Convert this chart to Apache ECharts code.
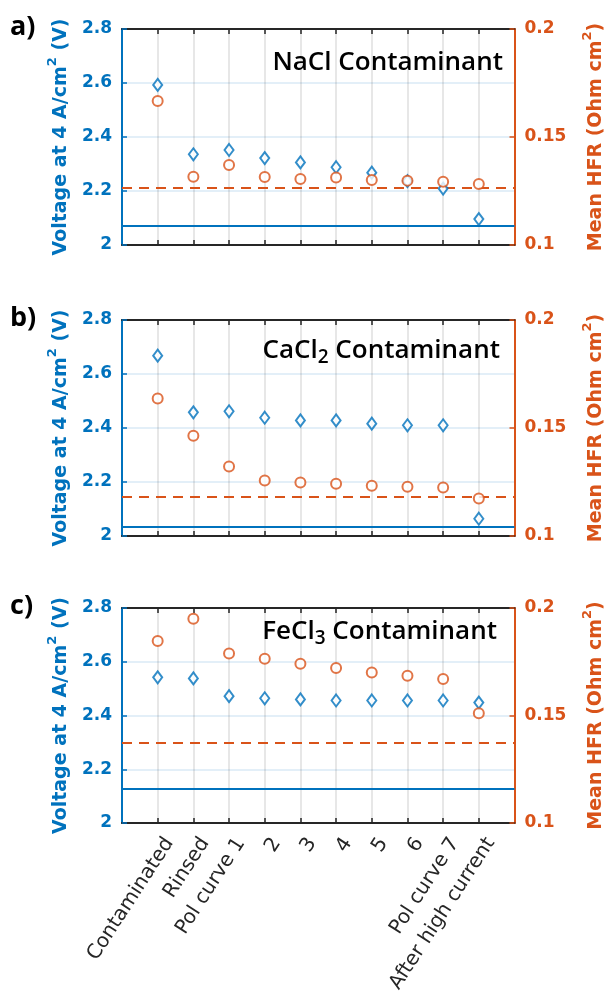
<!DOCTYPE html>
<html><head><meta charset="utf-8">
<script src="https://cdn.jsdelivr.net/npm/echarts@6/dist/echarts.min.js"></script>
<style>html,body{margin:0;padding:0;background:#fff}#c{width:614px;height:999px}</style>
</head><body><div id="c"></div>
<script>
const categories = ['Contaminated','Rinsed','Pol curve 1','2','3','4','5','6','Pol curve 7','After high current'];
const voltNaCl  = [2.593,2.336,2.352,2.322,2.306,2.288,2.268,2.237,2.209,2.096];
const hfrNaCl   = [0.1667,0.1316,0.1370,0.1315,0.1306,0.1312,0.1301,0.1298,0.1293,0.1282];
const voltCaCl2 = [2.668,2.458,2.462,2.438,2.428,2.428,2.416,2.410,2.410,2.064];
const hfrCaCl2  = [0.1637,0.1464,0.1322,0.1257,0.1248,0.1242,0.1233,0.1228,0.1225,0.1174];
const voltFeCl3 = [2.542,2.538,2.472,2.464,2.460,2.456,2.456,2.456,2.456,2.448];
const hfrFeCl3  = [0.1847,0.1950,0.1788,0.1764,0.1741,0.1721,0.1700,0.1685,0.1670,0.1511];
const voltBaseline = [2.072, 2.036, 2.129];
const hfrBaseline  = [0.1267, 0.1183, 0.1374];
const panelLetters = ['a)','b)','c)'];
const titleMain = ['NaCl','CaCl','FeCl'];
const titleSub  = ['','2','3'];
const voltAxis = {min:2, max:2.8, interval:0.2};
const hfrAxis  = {min:0.1, max:0.2, interval:0.05};

const volts = [voltNaCl, voltCaCl2, voltFeCl3];
const hfrs  = [hfrNaCl, hfrCaCl2, hfrFeCl3];
const BLUE='#0072BD', ORANGE='#D95319', DARK='#262626';
const layout = [{top:29,height:216,ty:63,tr:503},{top:320,height:216,ty:351,tr:500},{top:608,height:215,ty:632,tr:497}];
const tickVals = categories.map((c,i)=>i+1);

const grid=[], xAxis=[], yAxis=[], series=[], graphic=[];
layout.forEach((L,i)=>{
  grid.push({left:122,right:93,top:L.top,height:L.height});
  xAxis.push({type:'value',gridIndex:i,position:'bottom',min:0,max:11,interval:1,
    axisLine:{show:true,onZero:false,lineStyle:{color:DARK,width:2}},
    axisTick:{show:true,inside:true,length:5,lineStyle:{color:DARK,width:1.5},customValues:tickVals},
    splitLine:{show:true,lineStyle:{color:'rgba(38,38,38,0.15)',width:1.5}},
    axisLabel: i===2 ? {show:true,rotate:57,margin:9,fontFamily:'DejaVu Sans',fontSize:20,lineHeight:28,color:DARK,
      verticalAlign:'top',showMinLabel:true,showMaxLabel:true,hideOverlap:false,
      customValues:tickVals, formatter:v=>categories[v-1]||''} : {show:false}
  });
});
layout.forEach((L,i)=>{
  xAxis.push({type:'value',gridIndex:i,position:'top',min:0,max:11,interval:1,
    axisLine:{show:true,onZero:false,lineStyle:{color:DARK,width:2}},
    axisTick:{show:true,inside:true,length:5,lineStyle:{color:DARK,width:1.5},customValues:tickVals},
    splitLine:{show:false},axisLabel:{show:false}});
});
layout.forEach((L,i)=>{
  yAxis.push({type:'value',gridIndex:i,position:'left',min:voltAxis.min,max:voltAxis.max,interval:voltAxis.interval,
    axisLine:{show:true,onZero:false,lineStyle:{color:BLUE,width:2}},
    axisTick:{show:true,inside:true,length:5,lineStyle:{color:BLUE,width:1.5}},
    axisLabel:{color:BLUE,fontFamily:'DejaVu Sans',fontWeight:'bold',fontSize:17,margin:10},
    splitLine:{show:true,lineStyle:{color:'rgba(0,114,189,0.15)',width:1.5}},
    name:'{m|Voltage at 4 A/cm}{s|2}{m| (V)}',nameLocation:'middle',nameGap:44,nameRotate:90,
    nameTextStyle:{rich:{
      m:{fontFamily:'DejaVu Sans',fontWeight:'bold',fontSize:19,color:BLUE,lineHeight:30},
      s:{fontFamily:'DejaVu Sans',fontWeight:'bold',fontSize:13,color:BLUE,lineHeight:13,verticalAlign:'top'}}}
  });
});
layout.forEach((L,i)=>{
  yAxis.push({type:'value',gridIndex:i,position:'right',min:hfrAxis.min,max:hfrAxis.max,interval:hfrAxis.interval,
    axisLine:{show:true,onZero:false,lineStyle:{color:ORANGE,width:2}},
    axisTick:{show:true,inside:true,length:5,lineStyle:{color:ORANGE,width:1.5}},
    axisLabel:{color:ORANGE,fontFamily:'DejaVu Sans',fontWeight:'bold',fontSize:17,margin:10},
    splitLine:{show:false},
    name:'{m|Mean HFR (Ohm cm}{s|2}{m|)}',nameLocation:'middle',nameGap:67,nameRotate:90,
    nameTextStyle:{rich:{
      m:{fontFamily:'DejaVu Sans',fontWeight:'bold',fontSize:19,color:ORANGE,lineHeight:30},
      s:{fontFamily:'DejaVu Sans',fontWeight:'bold',fontSize:13,color:ORANGE,lineHeight:13,verticalAlign:'top'}}}
  });
});
layout.forEach((L,i)=>{
  series.push({type:'scatter',xAxisIndex:i,yAxisIndex:i,data:volts[i].map((v,k)=>[k+1,v]),
    symbol:'emptyDiamond',symbolSize:[9,12],itemStyle:{color:BLUE,borderWidth:1.8},z:5,
    markLine:{silent:true,precision:5,symbol:['none','none'],label:{show:false},animation:false,
      lineStyle:{color:BLUE,width:2,type:'solid'},emphasis:{disabled:true},data:[{yAxis:voltBaseline[i]}]}});
  series.push({type:'scatter',xAxisIndex:i,yAxisIndex:3+i,data:hfrs[i].map((v,k)=>[k+1,v]),
    symbol:'emptyCircle',symbolSize:10,itemStyle:{color:ORANGE,borderWidth:2},z:5,
    markLine:{silent:true,precision:5,symbol:['none','none'],label:{show:false},animation:false,
      lineStyle:{color:ORANGE,width:2,type:[10,7]},emphasis:{disabled:true},data:[{yAxis:hfrBaseline[i]}]}});
  graphic.push({type:'text',x:10,y:L.top-2,z:10,style:{text:panelLetters[i],fill:'#000',
    fontFamily:'Open Sans',fontWeight:'bold',fontSize:27,align:'left',verticalAlign:'middle'}});
  graphic.push({type:'text',x:L.tr,y:L.ty,z:10,style:{
    text:'{m|'+titleMain[i]+'}'+(titleSub[i]?'{s|'+titleSub[i]+'}':'')+'{m| Contaminant}',
    align:'right',verticalAlign:'middle',
    rich:{m:{fontFamily:'Open Sans',fontWeight:600,fontSize:26,lineHeight:33,fill:'#000'},
          s:{fontFamily:'Open Sans',fontWeight:600,fontSize:19,lineHeight:19,verticalAlign:'bottom',fill:'#000'}}}});
});

const chart = echarts.init(document.getElementById('c'),null,{renderer:'canvas'});
chart.setOption({animation:false,backgroundColor:'#fff',grid,xAxis,yAxis,series,graphic});
</script></body></html>
